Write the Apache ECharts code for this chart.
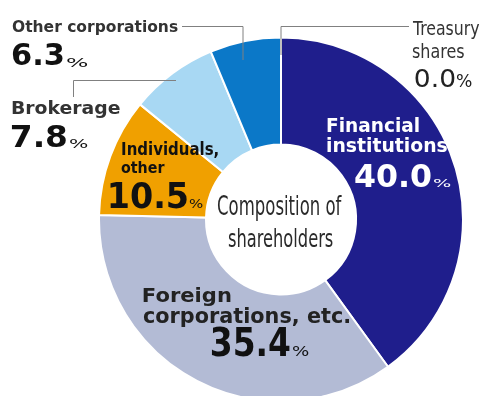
<!DOCTYPE html>
<html>
<head>
<meta charset="utf-8">
<script src="https://cdn.jsdelivr.net/npm/echarts@6/dist/echarts.min.js"></script>
<style>
  html, body { margin: 0; padding: 0; background: #fff; }
  #chart { width: 484px; height: 396px; }
</style>
</head>
<body>
<div id="chart"></div>
<script>
// Shareholder composition, clockwise from 12 o'clock
const categories = ['Financial institutions', 'Foreign corporations, etc.', 'Individuals, other', 'Brokerage', 'Other corporations', 'Treasury shares'];
const shares = [40.0, 35.4, 10.5, 7.8, 6.3, 0.0];
const nameLines = [['Financial', 'institutions'], ['Foreign', 'corporations, etc.'], ['Individuals,', 'other'], ['Brokerage'], ['Other corporations'], ['Treasury', 'shares']];
const centerTitle = ['Composition of', 'shareholders'];

const sliceColors = ['#1f1e8c', '#b3bbd5', '#f0a000', '#a8d8f3', '#0b78c8', '#0b78c8'];

// Label boxes: ink left/right and cap-top/baseline for each text run
const labelLayout = [
  { // Financial institutions
    names: [[327, 419, 118, 132], [327, 447, 138, 152]],
    num: [355, 431, 163, 187], pct: [433, 451, 178, 187],
    nameFont: 'bold 18px "DejaVu Sans"', numFont: 'bold 30px "DejaVu Sans"', pctFont: '15px "DejaVu Sans"',
    nameColor: '#ffffff', numColor: '#ffffff'
  },
  { // Foreign corporations, etc.
    names: [[143, 231, 288, 302], [143, 349, 308, 323]],
    num: [212, 290, 328, 356], pct: [292, 309, 345, 356],
    nameFont: 'bold 18px "DejaVu Sans"', numFont: 'bold 30px "DejaVu Sans"', pctFont: '15px "DejaVu Sans"',
    nameColor: '#222222', numColor: '#111111'
  },
  { // Individuals, other
    names: [[122, 218, 142, 155], [121, 165, 161, 173]],
    num: [110, 187, 182, 208], pct: [189, 203, 198, 208],
    nameFont: 'bold 17px "DejaVu Sans"', numFont: 'bold 30px "DejaVu Sans"', pctFont: '15px "DejaVu Sans"',
    nameColor: '#111111', numColor: '#111111'
  },
  { // Brokerage
    names: [[12, 120, 100.5, 114]],
    num: [12, 67, 125, 147], pct: [69, 88, 138, 148],
    nameFont: 'bold 17px "DejaVu Sans"', numFont: 'bold 30px "DejaVu Sans"', pctFont: '15px "DejaVu Sans"',
    nameColor: '#333333', numColor: '#111111'
  },
  { // Other corporations
    names: [[12, 178, 19.5, 32]],
    num: [12, 63, 43, 65], pct: [66, 88, 56, 66.5],
    nameFont: 'bold 17px "DejaVu Sans"', numFont: 'bold 30px "DejaVu Sans"', pctFont: '15px "DejaVu Sans"',
    nameColor: '#333333', numColor: '#111111'
  },
  { // Treasury shares
    names: [[412, 480, 21, 35], [412, 464, 43, 58]],
    num: [415, 455, 68, 87], pct: [456, 472, 75, 87],
    nameFont: '16px "DejaVu Sans Condensed", "DejaVu Sans"', numFont: '26px "DejaVu Sans Condensed", "DejaVu Sans"', pctFont: '14px "DejaVu Sans"',
    nameColor: '#333333', numColor: '#222222'
  }
];
const centerLayout = [[218, 342, 197, 215], [228, 333, 230, 247]];
const centerFont = '20px "DejaVu Sans Condensed", "DejaVu Sans"';

// Leader lines for labels placed outside the ring
const leaderLines = [
  [[182, 26.5], [243, 26.5], [243, 60]],
  [[176, 80.5], [73.5, 80.5], [73.5, 97]],
  [[409, 26.5], [281, 26.5], [281, 55]]
];

const measureCtx = document.createElement('canvas').getContext('2d');
measureCtx.textBaseline = 'middle';

// Text element scaled so its ink fills the given box
function fitText(str, font, box, fill) {
  const [left, right, capTop, base] = box;
  measureCtx.font = font;
  const m = measureCtx.measureText(str);
  const h = measureCtx.measureText('H');
  const inkW = m.actualBoundingBoxLeft + m.actualBoundingBoxRight;
  const capH = h.actualBoundingBoxAscent + h.actualBoundingBoxDescent;
  const sx = (right - left) / inkW;
  const sy = (base - capTop) / capH;
  return {
    type: 'text',
    x: left + m.actualBoundingBoxLeft * sx,
    y: capTop + h.actualBoundingBoxAscent * sy,
    scaleX: sx,
    scaleY: sy,
    z: 100,
    silent: true,
    style: { text: str, font: font, fill: fill, textAlign: 'left', textVerticalAlign: 'middle' }
  };
}

const graphics = [];
leaderLines.forEach(pts => {
  graphics.push({
    type: 'polyline', z: 90, silent: true,
    shape: { points: pts },
    style: { stroke: '#808080', lineWidth: 1, fill: null }
  });
});
labelLayout.forEach((lay, i) => {
  nameLines[i].forEach((line, k) => graphics.push(fitText(line, lay.nameFont, lay.names[k], lay.nameColor)));
  graphics.push(fitText(shares[i].toFixed(1), lay.numFont, lay.num, lay.numColor));
  graphics.push(fitText('%', lay.pctFont, lay.pct, lay.numColor));
});
centerTitle.forEach((line, k) => graphics.push(fitText(line, centerFont, centerLayout[k], '#2a2a2a')));

const chart = echarts.init(document.getElementById('chart'), null, { renderer: 'canvas' });
chart.setOption({
  animation: false,
  backgroundColor: '#ffffff',
  series: [{
    type: 'pie',
    center: [281, 219.5],
    radius: [75, 182],
    startAngle: 90,
    clockwise: true,
    silent: true,
    label: { show: false },
    labelLine: { show: false },
    itemStyle: { borderColor: '#ffffff', borderWidth: 2 },
    data: categories.map((name, i) => ({ name: name, value: shares[i], itemStyle: { color: sliceColors[i] } }))
  }],
  graphic: graphics
});
</script>
</body>
</html>
